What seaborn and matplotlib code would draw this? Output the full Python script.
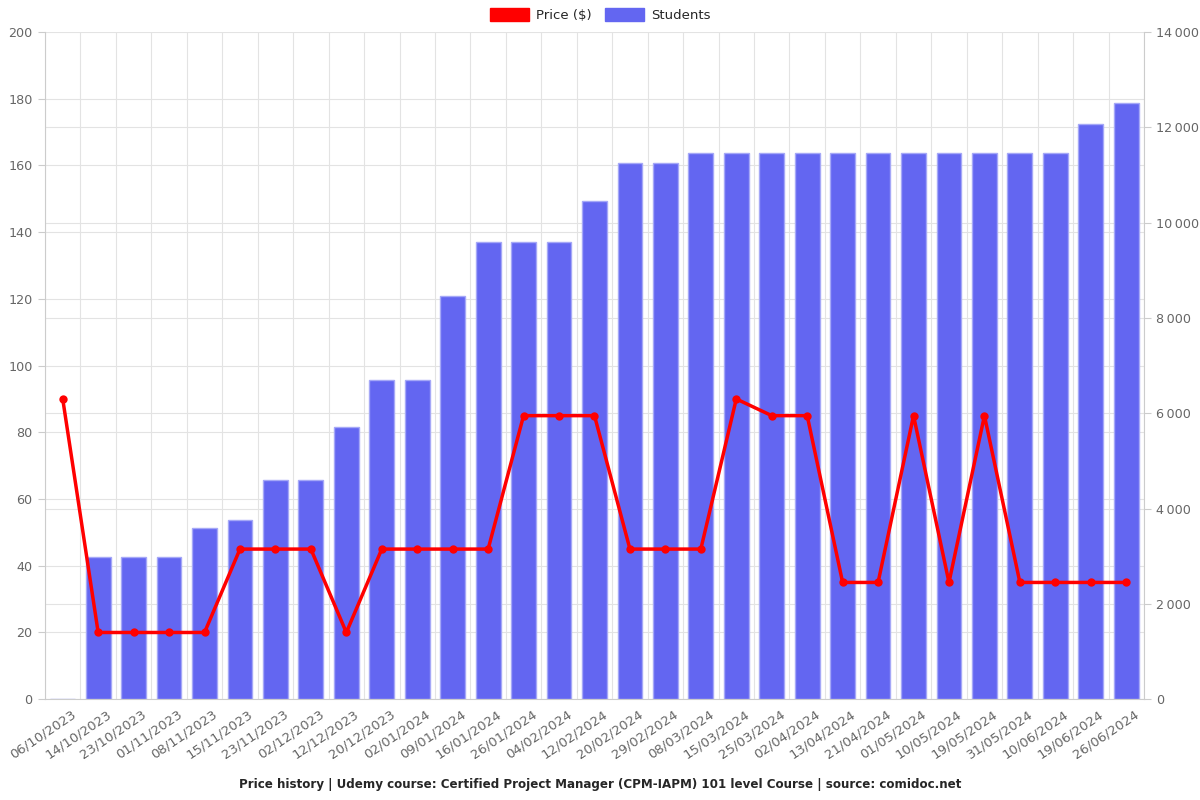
import pandas as pd
import numpy as np
import matplotlib.pyplot as plt
import seaborn as sns
from matplotlib.patches import Patch
from matplotlib.transforms import ScaledTranslation

dates = ["06/10/2023", "14/10/2023", "23/10/2023", "01/11/2023", "08/11/2023",
         "15/11/2023", "23/11/2023", "02/12/2023", "12/12/2023", "20/12/2023",
         "02/01/2024", "09/01/2024", "16/01/2024", "26/01/2024", "04/02/2024",
         "12/02/2024", "20/02/2024", "29/02/2024", "08/03/2024", "15/03/2024",
         "25/03/2024", "02/04/2024", "13/04/2024", "21/04/2024", "01/05/2024",
         "10/05/2024", "19/05/2024", "31/05/2024", "10/06/2024", "19/06/2024",
         "26/06/2024"]
price = [90, 20, 20, 20, 20, 45, 45, 45, 20, 45, 45, 45, 45, 85, 85, 85,
         45, 45, 45, 90, 85, 85, 35, 35, 85, 35, 85, 35, 35, 35, 35]
students = [10, 2980, 2980, 2980, 3590, 3760, 4600, 4600, 5710, 6700, 6700,
            8460, 9590, 9590, 9590, 10450, 11250, 11250, 11460, 11460, 11460,
            11460, 11460, 11460, 11460, 11460, 11460, 11460, 11460, 12070, 12510]

df = pd.DataFrame({"date": dates, "price": price, "students": students})
x = np.arange(len(df))
grid_c = "#E3E3E3"

sns.set_style("white")
fig, ax = plt.subplots(figsize=(12, 8), dpi=100)
ax2 = ax.twinx()

# bars on the right axis, line on the left one (drawn on top)
sns.barplot(x=x, y=df["students"], ax=ax2, color="#6366F1", saturation=1,
            width=0.7, edgecolor="#A5A8F7", linewidth=1, zorder=2)
sns.lineplot(x=x, y=df["price"], ax=ax, color="#FF0000", linewidth=2.5,
             marker="o", markersize=6, markeredgewidth=0, zorder=5)

ax.set_zorder(ax2.get_zorder() + 1)
ax.patch.set_visible(False)

n = len(df)
ax.set_xlim(-0.5, n - 0.5)
ax.set_ylim(0, 200)
ax2.set_ylim(0, 14000)
ax.set_yticks(range(0, 201, 20))
ax2.set_yticks(range(0, 14001, 2000))
ax2.set_yticklabels([f"{v:,}".replace(",", "\u2009") for v in range(0, 14001, 2000)])

ax.set_xticks(x)
ax.set_xticklabels(df["date"], rotation=34, ha="right", rotation_mode="anchor")
ax.set_xticks(np.arange(-0.5, n, 1), minor=True)

# grid for both axes lives on ax2 so it stays behind the bars
ax2.xaxis.set_visible(True)
ax2.set_yticks(np.arange(0, 14001, 1400), minor=True)
ax2.grid(True, which="major", axis="y", color=grid_c, linewidth=0.8)
ax2.grid(True, which="minor", axis="both", color=grid_c, linewidth=0.8)
ax2.tick_params(axis="y", which="minor", length=0)
ax2.tick_params(axis="x", which="both", bottom=False, top=False,
                labelbottom=False, labeltop=False)
ax2.set_axisbelow(True)
ax.grid(False)

for a in (ax, ax2):
    a.set_xlabel("")
    a.set_ylabel("")
    a.tick_params(axis="y", colors="#666666", labelsize=9.2, length=5, pad=4)
    for s in a.spines.values():
        s.set_visible(False)
ax.spines["left"].set_visible(True)
ax.spines["left"].set_color("#CCCCCC")
ax.spines["bottom"].set_visible(True)
ax.spines["bottom"].set_color("#CCCCCC")
ax2.spines["right"].set_visible(True)
ax2.spines["right"].set_color("#CCCCCC")
ax.tick_params(axis="x", which="major", length=0, pad=6, labelsize=9.5, labelcolor="#666666")
ax.tick_params(axis="x", which="minor", length=5, color="#CCCCCC")
ax.tick_params(axis="y", color="#CCCCCC")
ax2.tick_params(axis="y", which="major", color="#CCCCCC")

shift = ScaledTranslation(8 / 100, 0, fig.dpi_scale_trans)
for lbl in ax.get_xticklabels():
    lbl.set_transform(lbl.get_transform() + shift)

handles = [Patch(color="#FF0000", label="Price ($)"), Patch(color="#6366F1", label="Students")]
fig.legend(handles=handles, loc="upper center", bbox_to_anchor=(0.5, 1.005), ncol=2,
           frameon=False, fontsize=9.5, handlelength=3, handleheight=1.1,
           handletextpad=0.5, columnspacing=1)

fig.text(0.5, 0.015, "Price history | Udemy course: Certified Project Manager (CPM-IAPM) 101 level Course | source: comidoc.net",
         ha="center", fontsize=8.6, fontweight="bold")

plt.subplots_adjust(left=0.0375, right=0.9533, top=0.96, bottom=0.126)
plt.savefig("out.png")
